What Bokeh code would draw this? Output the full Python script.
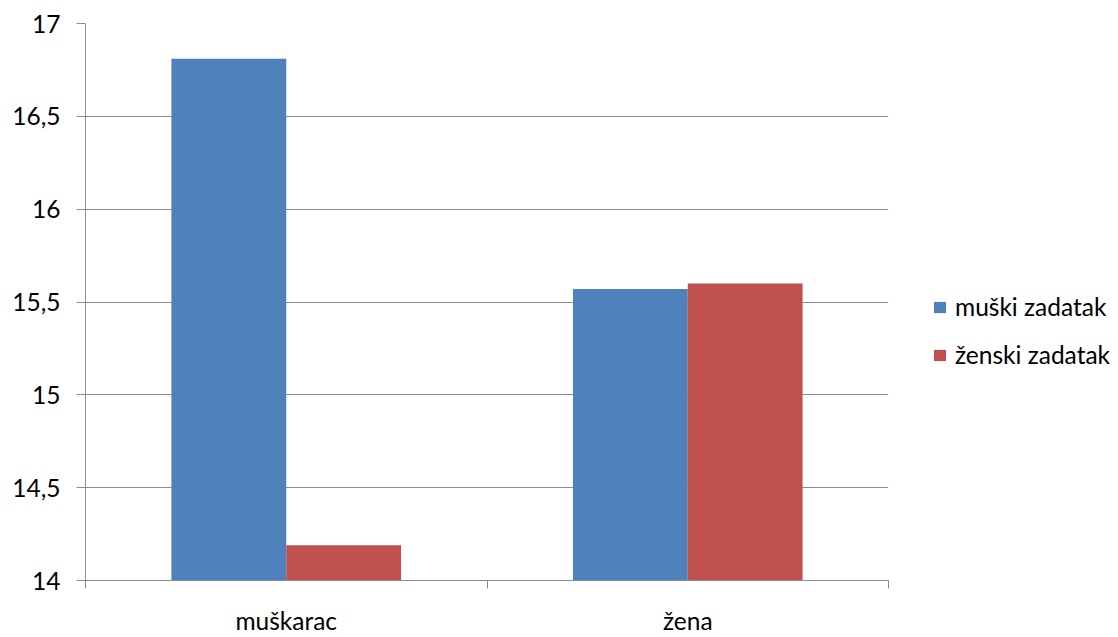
from bokeh.plotting import figure
from bokeh.models import (ColumnDataSource, Range1d, FixedTicker, Legend, LegendItem)
from bokeh.transform import dodge
from bokeh.embed import file_html
from bokeh.resources import INLINE

categories = ["muškarac", "žena"]
series_names = ["muški zadatak", "ženski zadatak"]
muski_zadatak = [16.81, 15.57]
zenski_zadatak = [14.19, 15.60]
y_ticks = [14, 14.5, 15, 15.5, 16, 16.5, 17]
y_tick_labels = ["14", "14,5", "15", "15,5", "16", "16,5", "17"]

colors = ["#4F81BD", "#C0504D"]
grid_color = "#8C8C8C"
font = "Lato"
fsize = "24.5px"

centers = [i + 0.5 for i in range(len(categories))]
source = ColumnDataSource(dict(
    x=centers, cat=categories,
    muski=muski_zadatak, zenski=zenski_zadatak,
    base=[y_ticks[0]] * len(categories),
))

p = figure(width=1118, height=637, output_backend="svg", toolbar_location=None,
           x_range=Range1d(0, len(categories)), y_range=Range1d(y_ticks[0], y_ticks[-1]),
           frame_width=803, frame_height=557,
           min_border_left=85, min_border_top=23, min_border_right=230, min_border_bottom=57)
p.outline_line_color = None
p.background_fill_color = "white"
p.border_fill_color = "white"

bw = 0.286
r1 = p.vbar(x=dodge("x", -bw / 2, range=p.x_range), top="muski", bottom="base", width=bw,
            source=source, fill_color=colors[0], line_color=None)
r2 = p.vbar(x=dodge("x", bw / 2, range=p.x_range), top="zenski", bottom="base", width=bw,
            source=source, fill_color=colors[1], line_color=None)

# y axis
p.yaxis.ticker = FixedTicker(ticks=y_ticks)
p.yaxis.major_label_overrides = {t: l for t, l in zip(y_ticks, y_tick_labels)}
p.yaxis.axis_line_color = grid_color
p.yaxis.major_tick_line_color = grid_color
p.yaxis.major_tick_out = 9
p.yaxis.major_tick_in = 0
p.yaxis.minor_tick_line_color = None
p.yaxis.major_label_standoff = 16
p.yaxis.major_label_text_font = font
p.yaxis.major_label_text_font_size = fsize
p.yaxis.major_label_text_color = "#000000"

# x axis: labels at category centers, ticks at category boundaries
boundaries = [float(i) for i in range(len(categories) + 1)]
p.xaxis.ticker = FixedTicker(ticks=centers, minor_ticks=boundaries)
p.xaxis.major_label_overrides = {c: l for c, l in zip(centers, categories)}
p.xaxis.axis_line_color = grid_color
p.xaxis.major_tick_line_color = None
p.xaxis.minor_tick_line_color = grid_color
p.xaxis.minor_tick_out = 8
p.xaxis.minor_tick_in = 0
p.xaxis.major_tick_out = 8
p.xaxis.major_label_standoff = 17
p.xaxis.major_label_text_font = font
p.xaxis.major_label_text_font_size = fsize
p.xaxis.major_label_text_color = "#000000"

p.xgrid.grid_line_color = None
p.ygrid.ticker = FixedTicker(ticks=y_ticks)
p.ygrid.grid_line_color = grid_color
p.ygrid.grid_line_width = 1

legend = Legend(items=[LegendItem(label=series_names[0], renderers=[r1]),
                       LegendItem(label=series_names[1], renderers=[r2])],
                location=(44, 211), orientation="vertical")
legend.border_line_color = None
legend.background_fill_alpha = 0
legend.padding = 0
legend.margin = 0
legend.glyph_width = 15
legend.glyph_height = 14
legend.label_standoff = 8
legend.spacing = 19
legend.label_text_font = font
legend.label_text_font_size = fsize
legend.label_text_color = "#000000"
p.add_layout(legend, "right")

open("out.html", "w").write(file_html(p, INLINE))
